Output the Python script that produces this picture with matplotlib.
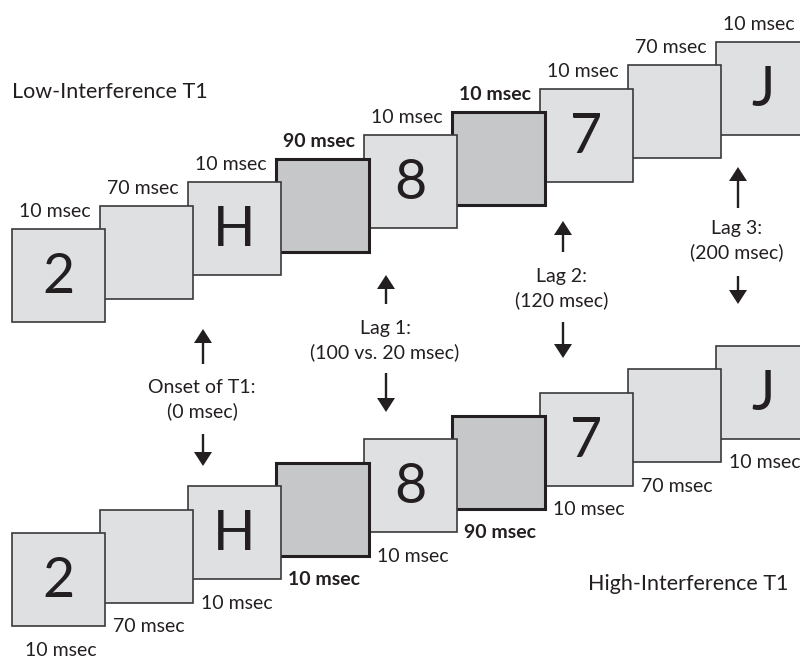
import matplotlib
matplotlib.use("Agg")
import matplotlib.pyplot as plt
from matplotlib.patches import Rectangle, Polygon

plt.rcParams['font.family'] = ['Lato', 'DejaVu Sans']

# ---- data ----
stimuli = ['2', '', 'H', '', '8', '', '7', '', 'J']
is_mask = [False, False, False, True, False, True, False, False, False]
low_durations = ['10 msec', '70 msec', '10 msec', '90 msec', '10 msec',
                 '10 msec', '10 msec', '70 msec', '10 msec']
low_bold = [False, False, False, True, False, True, False, False, False]
high_durations = ['10 msec', '70 msec', '10 msec', '10 msec', '10 msec',
                  '90 msec', '10 msec', '70 msec', '10 msec']
high_bold = [False, False, False, True, False, True, False, False, False]
condition_titles = ['Low-Interference T1', 'High-Interference T1']
marker_titles = ['Onset of T1:', 'Lag 1:', 'Lag 2:', 'Lag 3:']
marker_times = ['(0 msec)', '(100 vs. 20 msec)', '(120 msec)', '(200 msec)']

# ---- layout ----
W, H = 800, 657
BOX = 93
X0, DX = 12, 88
Y0_LOW, DY = 229, 23.4
ROW_OFFSET = 304
TXT = '#231f20'
LIGHT = '#dfe0e2'
DARK = '#c6c7c9'

# arrows: (x, up_tail, up_tip, down_tail, down_tip, title_baseline)
arrow_layout = [
    (203, 364, 329, 434, 466, 393),
    (386, 304, 275, 373, 412, 334),
    (563, 252, 221, 322, 358, 282),
    (738, 208, 167, 276, 304, 234),
]

fig = plt.figure(figsize=(W / 100, H / 100), dpi=100)
ax = fig.add_axes([0, 0, 1, 1])
ax.set_xlim(0, W)
ax.set_ylim(H, 0)
ax.axis('off')

lab_fs = 14
big_fs = 40

def draw_row(y0, durations, bold, above):
    n = len(stimuli)
    for i in range(n):
        x = X0 + i * DX
        y = y0 - i * DY
        z = 50 - i * 2
        dark = is_mask[i]
        ax.add_patch(Rectangle((x, y), BOX, BOX,
                               facecolor=DARK if dark else LIGHT,
                               edgecolor=TXT if dark else '#3a3a3c',
                               lw=2.2 if dark else 1.2, zorder=z))
        if stimuli[i]:
            ax.text(x + BOX / 2, y + BOX / 2 + 2, stimuli[i], fontsize=big_fs,
                    ha='center', va='center', color=TXT, zorder=z + 1)
        if above:
            ax.text(x + BOX / 2 - 3.5, y - 12, durations[i], fontsize=lab_fs,
                    ha='center', va='baseline', color=TXT,
                    fontweight='bold' if bold[i] else 'normal', zorder=100)
        else:
            ax.text(x + BOX / 2 + 2, y + BOX + 29.5, durations[i], fontsize=lab_fs,
                    ha='center', va='baseline', color=TXT,
                    fontweight='bold' if bold[i] else 'normal', zorder=100)

draw_row(Y0_LOW, low_durations, low_bold, True)
draw_row(Y0_LOW + ROW_OFFSET, high_durations, high_bold, False)

ax.text(12, 98, condition_titles[0], fontsize=15.5, ha='left', va='baseline', color=TXT)
ax.text(788, 590, condition_titles[1], fontsize=15.5, ha='right', va='baseline', color=TXT)

HEAD_W, HEAD_L = 9, 14

def arrow(x, tail, tip):
    sgn = 1 if tip > tail else -1
    base = tip - sgn * HEAD_L
    ax.plot([x, x], [tail, base], color=TXT, lw=1.7, solid_capstyle='butt', zorder=60)
    ax.add_patch(Polygon([(x - HEAD_W, base), (x + HEAD_W, base), (x, tip)],
                         closed=True, facecolor=TXT, edgecolor='none', zorder=60))

for (x, ut, up, dt, dp, tb), t1, t2 in zip(arrow_layout, marker_titles, marker_times):
    arrow(x, ut, up)
    arrow(x, dt, dp)
    ax.text(x - 1, tb, t1, fontsize=lab_fs, ha='center', va='baseline', color=TXT)
    ax.text(x - 1, tb + 24, t2, fontsize=lab_fs, ha='center', va='baseline', color=TXT)

fig.savefig('out.png', dpi=100, facecolor='white')
